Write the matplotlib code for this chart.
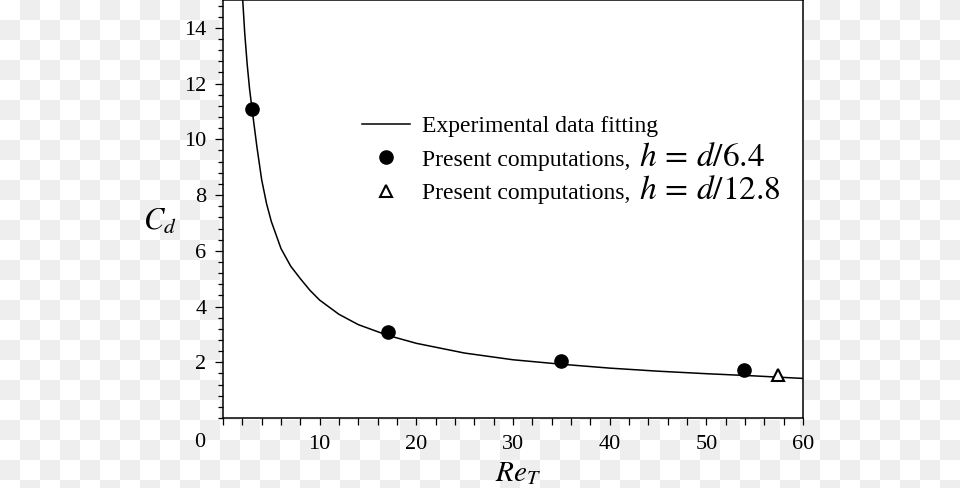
import numpy as np
import matplotlib
matplotlib.use('Agg')
import matplotlib.pyplot as plt
from matplotlib.ticker import MultipleLocator

plt.rcParams['font.family'] = ['Liberation Serif', 'DejaVu Serif']
plt.rcParams['mathtext.fontset'] = 'stix'

fit_re = [2.04, 2.25, 2.5, 2.75, 3.0, 3.5, 4.0, 4.5, 5.0, 6.0, 7.0, 8.0, 9.0,
          10.0, 12.0, 14.0, 17.0, 20.0, 25.0, 30.0, 35.0, 40.0, 45.0, 50.0,
          55.0, 60.0]
fit_cd = [15.0, 13.8, 12.7, 11.8, 11.1, 9.75, 8.55, 7.7, 7.05, 6.08, 5.45,
          5.0, 4.58, 4.23, 3.72, 3.35, 2.97, 2.68, 2.33, 2.09, 1.93, 1.79,
          1.68, 1.59, 1.51, 1.42]

# Present computations, h = d/6.4
comp1_re = [3.0, 17.1, 35.0, 53.9]
comp1_cd = [11.1, 3.1, 2.06, 1.72]

# Present computations, h = d/12.8
comp2_re = [57.4]
comp2_cd = [1.55]

x_ticks = [0, 10, 20, 30, 40, 50, 60]
y_ticks = [2, 4, 6, 8, 10, 12, 14]

fig = plt.figure(figsize=(9.6, 4.88), dpi=100)

# checkerboard backdrop as in the reference image
cols = np.arange(960) // 20
rows = np.arange(488) // 20
odd = (cols[None, :] + rows[:, None]) % 2
shade = np.where(odd == 1, 0xee / 255, 1.0)
fig.figimage(np.dstack([shade, shade, shade]), xo=0, yo=0, origin='upper', zorder=-1)
fig.patch.set_alpha(0)

ax = fig.add_axes([223 / 960, 70 / 488, 580 / 960, 418 / 488])
ax.set_facecolor('white')

ax.plot(fit_re, fit_cd, color='black', lw=1.1, label='Experimental data fitting', zorder=2)
ax.plot(comp1_re, comp1_cd, 'o', color='black', ms=9.5, ls='none',
        label='Present computations,', zorder=3)
ax.plot(comp2_re, comp2_cd, '^', mfc='white', mec='black', mew=1.5, ms=8, ls='none',
        label='Present computations,', zorder=3)

ax.set_xlim(0, 60)
ax.set_ylim(0, 15)
ax.set_xticks(x_ticks)
ax.set_xticklabels([''] + [str(v) for v in x_ticks[1:]])
ax.set_yticks(y_ticks)
ax.xaxis.set_minor_locator(MultipleLocator(2))
ax.yaxis.set_minor_locator(MultipleLocator(0.4))

for side in ['left', 'right', 'bottom', 'top']:
    ax.spines[side].set_linewidth(1.1)

ax.tick_params(axis='both', which='both', direction='out', width=0.9, labelsize=16)
ax.tick_params(axis='x', which='major', length=5, pad=7)
ax.tick_params(axis='x', which='minor', length=5)
ax.tick_params(axis='y', which='major', length=6, pad=6)
ax.tick_params(axis='y', which='minor', length=3.5)
ax.tick_params(right=False, top=False)

# the "0" label sits left of the corner
ax.annotate('0', xy=(x_ticks[0], 0), xycoords=('data', 'axes fraction'),
            xytext=(-23, -15), textcoords='offset pixels', ha='center', va='top',
            fontsize=16)

ax.set_xlabel(r'$Re_T$', fontsize=21)
ax.xaxis.set_label_coords(0.509, -0.1)
ax.set_ylabel(r'$C_d$', fontsize=22, rotation=0, va='center', ha='center')
ax.yaxis.set_label_coords(-0.109, 0.468)

leg = ax.legend(loc='upper left', bbox_to_anchor=(0.2397, 0.723), frameon=False,
                fontsize=17, borderpad=0, borderaxespad=0, handlelength=2.03,
                handletextpad=0.5, labelspacing=0.5)

# larger math parts of the legend labels
fig.canvas.draw()
renderer = fig.canvas.get_renderer()
math_parts = [r'$h\,=\,d/6.4$', r'$h\,=\,d/12.8$']
for t, s in zip(leg.get_texts()[1:], math_parts):
    bb = t.get_window_extent(renderer)
    _, _, descent = renderer.get_text_width_height_descent(
        t.get_text(), t.get_fontproperties(), ismath=False)
    fig.text((bb.x1 + 9) / fig.bbox.width, (bb.y0 + descent) / fig.bbox.height, s,
             fontsize=24, ha='left', va='baseline')

fig.savefig('out.png', dpi=100)
